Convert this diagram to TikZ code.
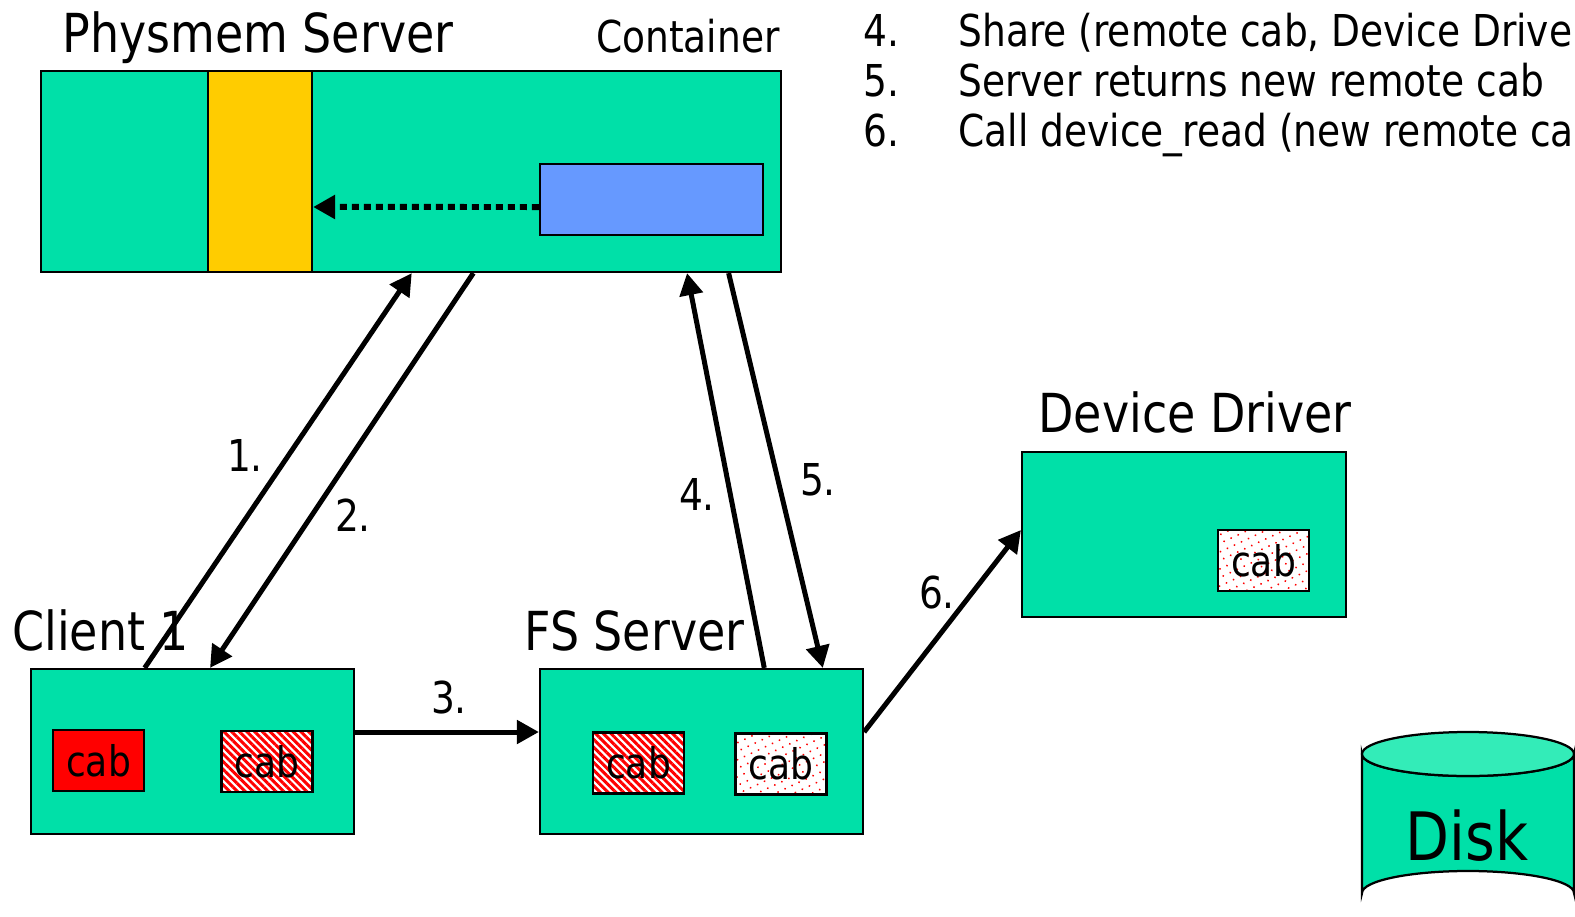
\documentclass[tikz,border=0pt]{standalone}
\usepackage{fontspec}
\setmainfont{DejaVu Sans}[FakeStretch=0.855]
\usetikzlibrary{arrows.meta,patterns.meta,calc}
\definecolor{tealbox}{RGB}{0,224,168}
\definecolor{tealtop}{RGB}{51,236,184}
\definecolor{ybar}{RGB}{255,204,0}
\definecolor{bluebox}{RGB}{102,153,255}
\tikzset{
  x=0.02cm, y=-0.02cm,
  box/.style={draw=black, line width=0.045cm, fill=tealbox, inner sep=0pt},
  cabbox/.style={draw=black, line width=0.055cm, inner sep=0pt,
    minimum width=1.82cm, minimum height=1.22cm, font=\fontsize{24}{28}\selectfont},
  cabsolid/.style={cabbox, fill=red},
  cabstripe/.style={cabbox, preaction={fill=white},
    pattern={Lines[angle=-45, distance=3.1pt, line width=1.7pt]}, pattern color=red},
  cabdots/.style={cabbox, preaction={fill=white},
    pattern={Dots[radius=0.6pt, distance=4.4pt, angle=25]}, pattern color=red},
  big/.style={font=\fontsize{30.6}{36}\selectfont, inner sep=0pt},
  small/.style={font=\fontsize{25}{30}\selectfont, inner sep=0pt},
  flow/.style={line width=0.1cm, -{Triangle[length=0.44cm, width=0.46cm]}},
}
\begin{document}
\begin{tikzpicture}
\useasboundingbox (0,0) rectangle (1575,916);
\clip (0,0) rectangle (1575,916);

% Physmem server with its container
\node[box, minimum width=14.8cm, minimum height=4.02cm] (physmem) at (411,171.5) {};
\node[draw=black, line width=0.045cm, fill=ybar, minimum width=2.08cm, minimum height=4.02cm, inner sep=0pt] (region) at (260,171.5) {};
\node[draw=black, line width=0.05cm, fill=bluebox, minimum width=4.46cm, minimum height=1.42cm, inner sep=0pt] (container) at (651.5,199.5) {};
\node[big, anchor=base west] (physlabel) at (62,52) {Physmem Server};
\node[small, anchor=base east] (contlabel) at (780,52) {Container};

% Clients and servers
\node[box, minimum width=6.46cm, minimum height=3.3cm] (client) at (192.5,751.5) {};
\node[box, minimum width=6.46cm, minimum height=3.3cm] (fs) at (701.5,751.5) {};
\node[box, minimum width=6.48cm, minimum height=3.3cm] (dev) at (1184,534.5) {};
\node[big, anchor=base west] (clientlabel) at (12,650) {Client 1};
\node[big, anchor=base west] (fslabel) at (524,650) {FS Server};
\node[big, anchor=base west] (devlabel) at (1038,432) {Device Driver};

% Capabilities
\node[cabsolid] (cabA) at (98.5,760.5) {cab};
\node[cabstripe] (cabB) at (267,761.5) {cab};
\node[cabstripe] (cabC) at (638.5,763) {cab};
\node[cabdots] (cabD) at (781,764) {cab};
\node[cabdots] (cabE) at (1263.5,560.5) {cab};

% Disk
\path[fill=tealbox, draw=black, line width=0.045cm]
  (1362,754) -- (1362,893) arc[start angle=180, end angle=360, x radius=106, y radius=22]
  -- (1574,754) arc[start angle=0, end angle=180, x radius=106, y radius=22] -- cycle;
\path[fill=tealtop, draw=black, line width=0.045cm]
  (1468,754) ellipse[x radius=106, y radius=22];
\node[font=\fontsize{38}{44}\selectfont, inner sep=0pt] (disk) at (1467,836) {Disk};

% Step list
\node[small, anchor=base west] (n4) at (863,46) {4.};
\node[small, anchor=base west] (t4) at (958,46) {Share (remote cab, Device Driver)};
\node[small, anchor=base west] (n5) at (863,96) {5.};
\node[small, anchor=base west] (t5) at (958,96) {Server returns new remote cab};
\node[small, anchor=base west] (n6) at (863,146) {6.};
\node[small, anchor=base west] (t6) at (958,146) {Call device\_read (new remote cab)};

% Flows
\draw[line width=0.12cm, dash pattern=on 0.14cm off 0.1cm, -{Triangle[length=0.44cm, width=0.46cm]}]
  ([yshift=-0.15cm]container.west) -- ([yshift=-0.71cm]region.east);
\draw[flow] ($(client.north west)!0.353!(client.north east)$) -- ($(physmem.south west)!0.501!(physmem.south east)$);
\draw[flow] ($(physmem.south west)!0.584!(physmem.south east)$) -- ($(client.north west)!0.554!(client.north east)$);
\draw[flow] ([yshift=0.39cm]client.east) -- ([yshift=0.39cm]fs.west);
\draw[flow] ($(fs.north west)!0.693!(fs.north east)$) -- ($(physmem.south west)!0.872!(physmem.south east)$);
\draw[flow] ($(physmem.south west)!0.928!(physmem.south east)$) -- ($(fs.north west)!0.873!(fs.north east)$);
\draw[flow] ([yshift=0.39cm]fs.east) -- ([yshift=0.09cm]dev.west);

% Step labels
\node[small] (l1) at (245,455) {1.};
\node[small] (l2) at (353,515) {2.};
\node[small] (l3) at (449,698) {3.};
\node[small] (l4) at (697,494) {4.};
\node[small] (l5) at (818,480) {5.};
\node[small] (l6) at (937,593) {6.};
\end{tikzpicture}
\end{document}
